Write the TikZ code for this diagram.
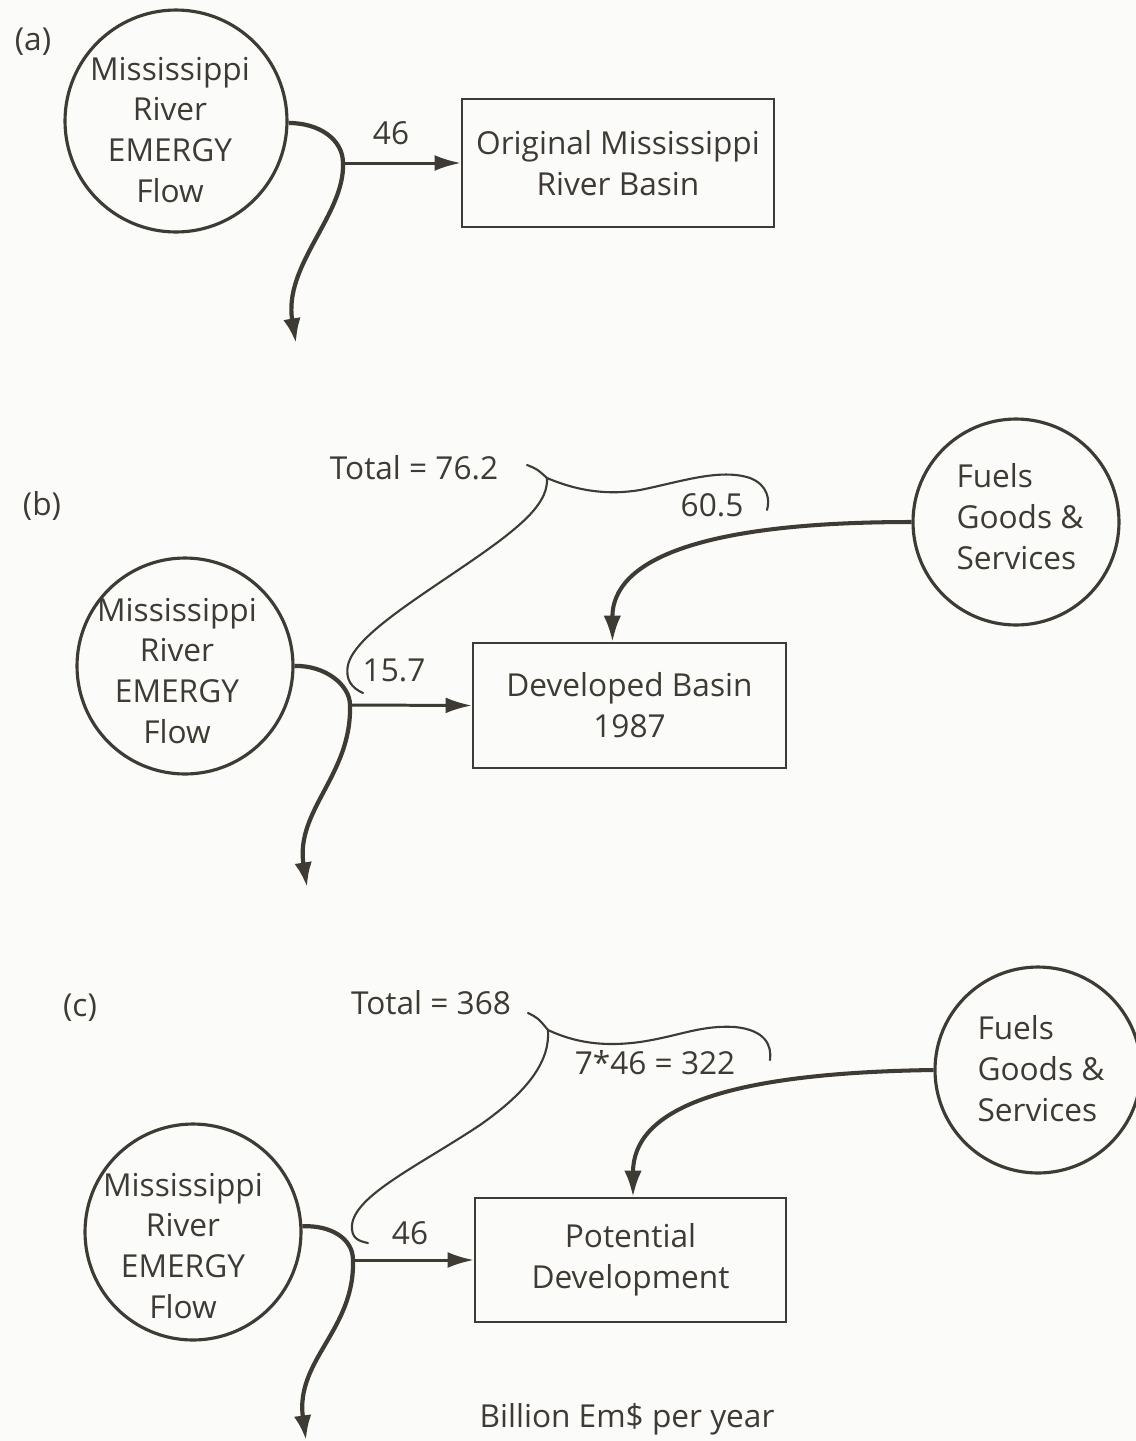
\documentclass[tikz,border=0pt]{standalone}
\usepackage{fontspec}
\setmainfont{Open Sans}
\usetikzlibrary{arrows.meta,calc}
\definecolor{ink}{RGB}{62,58,52}
\definecolor{paper}{RGB}{251,251,249}
\begin{document}
\begin{tikzpicture}[x=0.02cm,y=-0.02cm,
  every node/.style={font=\fontsize{18}{23.3}\selectfont, text=ink},
  circ/.style={draw=ink, line width=1.8pt, circle, inner sep=0pt},
  lbl/.style={align=center, inner sep=0pt},
  procbox/.style={draw=ink, line width=1.2pt, rectangle, inner sep=0pt, align=center},
  flow/.style={draw=ink, line width=2.4pt, -{Latex[length=14pt,width=10pt]}},
  harrow/.style={draw=ink, line width=1.7pt, -{Latex[length=15pt,width=9pt]}},
  farrow/.style={draw=ink, line width=2.3pt, -{Latex[length=15pt,width=10pt]}},
  bracel/.style={draw=ink, line width=1.2pt, line cap=round}]
\fill[paper] (0,0) rectangle (1136,1441);
\useasboundingbox (0,0) rectangle (1136,1441);

% ---------- panel (a) ----------
\node (la) at (33,42) {(a)};
\node[circ, minimum size=4.44cm] (ca) at (176,121) {};
\node[lbl] (ta) at (170,130) {Mississippi\\River\\EMERGY\\Flow};
\node[procbox, minimum width=6.24cm, minimum height=2.56cm] (ba) at (618,163) {Original Mississippi\\River Basin};
\coordinate (ja) at (343,163);
\coordinate (ea) at (296,343);
\draw[flow] (ca.-1) .. controls (320,123) and (343,140) .. (ja) .. controls (345,215) and (283,265) .. (ea);
\draw[harrow] (ja) -- (ba.west);
\node (na) at (391,133) {46};

% ---------- panel (b) ----------
\node (lb) at (42,506) {(b)};
\node[circ, minimum size=4.32cm] (cb) at (185,666) {};
\node[lbl] (tb) at (177,671) {Mississippi\\River\\EMERGY\\Flow};
\node[procbox, minimum width=6.26cm, minimum height=2.5cm] (bb) at (629.5,705.5) {Developed Basin\\1987};
\coordinate (jb) at (350,705);
\coordinate (eb) at (307,887);
\draw[flow] (cb.0) .. controls (325,665) and (350,685) .. (jb) .. controls (352,775) and (295,810) .. (eb);
\draw[harrow] (jb) -- (bb.west);
\node[circ, minimum size=4.12cm] (fb) at (1016,522) {};
\node[lbl, align=left] (tfb) at (1020,517) {Fuels\\Goods \&\\Services};
\draw[farrow] (fb.west) .. controls (700,522) and (612,560) .. ($(bb.north)+(-17,0)$);
% brace (b)
\draw[bracel] (527,465) .. controls (537,469) .. (547,478);
\draw[bracel] (547,478) .. controls (580,492) and (610,495) .. (640,490) .. controls (680,482) and (720,468) .. (750,478) .. controls (768,485) and (770,500) .. (767,510);
\draw[bracel] (547,478) .. controls (548,500) and (530,520) .. (480,555) .. controls (420,597) and (355,635) .. (348,665) .. controls (345,680) and (352,688) .. (363,693);
\node (totb) at (414,468) {Total = 76.2};
\node (vb1) at (712,505) {60.5};
\node (vb2) at (394,670) {15.7};

% ---------- panel (c) ----------
\node (lc) at (80,1008) {(c)};
\node[circ, minimum size=4.32cm] (cc) at (193,1232) {};
\node[lbl] (tc) at (183,1246) {Mississippi\\River\\EMERGY\\Flow};
\node[procbox, minimum width=6.22cm, minimum height=2.48cm] (bc) at (630.5,1260) {Potential\\Development};
\coordinate (jc) at (353,1260);
\coordinate (ec) at (306,1440);
\draw[flow] (cc.3) .. controls (330,1225) and (353,1238) .. (jc) .. controls (355,1330) and (295,1360) .. (ec);
\draw[harrow] (jc) -- (bc.west);
\node[circ, minimum size=4.12cm] (fc) at (1038,1070) {};
\node[lbl, align=left] (tfc) at (1041,1069) {Fuels\\Goods \&\\Services};
\draw[farrow] (fc.west) .. controls (720,1073) and (633,1110) .. ($(bc.north)+(2.5,0)$);
% brace (c)
\draw[bracel] (528,1013) .. controls (538,1018) .. (548,1030);
\draw[bracel] (548,1030) .. controls (580,1045) and (610,1046) .. (640,1042) .. controls (680,1036) and (700,1025) .. (735,1027) .. controls (765,1030) and (772,1045) .. (770,1060);
\draw[bracel] (548,1030) .. controls (550,1060) and (530,1090) .. (480,1125) .. controls (420,1165) and (355,1195) .. (352,1225) .. controls (351,1238) and (358,1241) .. (368,1243);
\node (totc) at (431,1003) {Total = 368};
\node (vc1) at (655,1063) {7*46 = 322};
\node (vc2) at (410,1233) {46};

\node (unit) at (627,1419) {Billion Em\$ per year};
\end{tikzpicture}
\end{document}
